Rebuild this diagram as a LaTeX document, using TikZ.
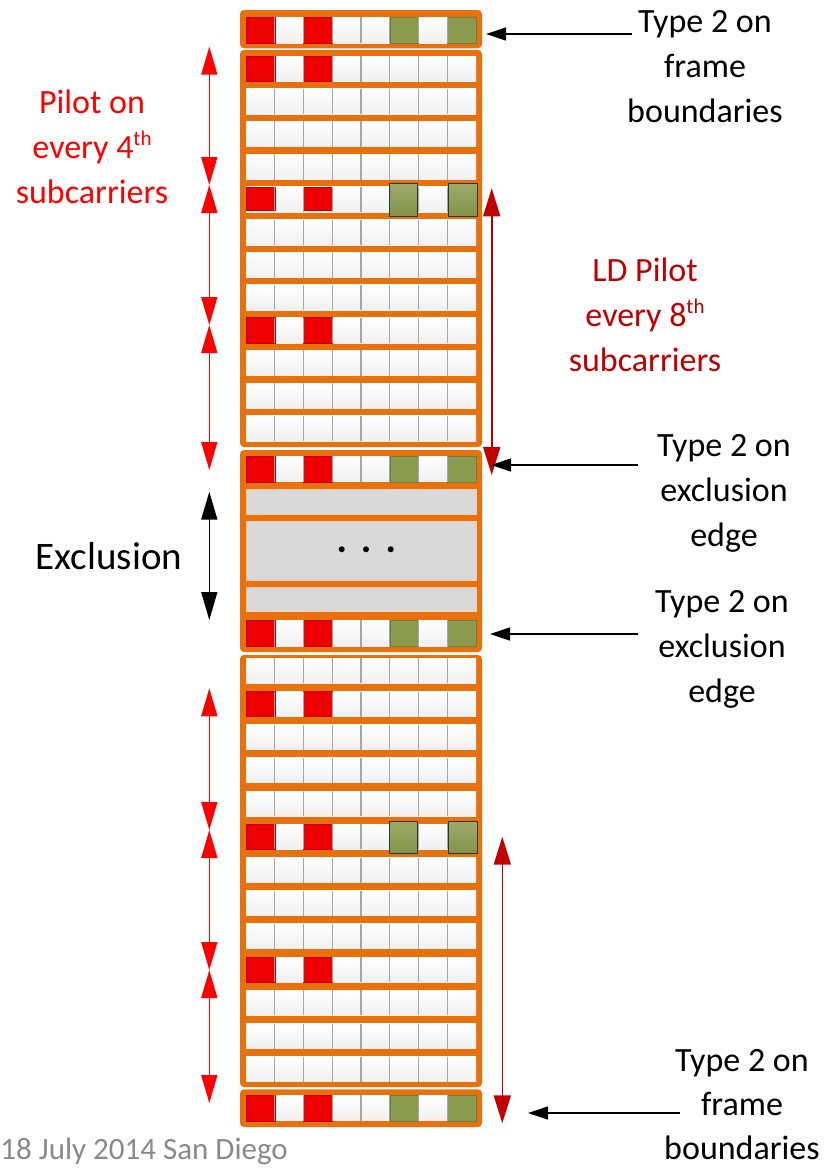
\documentclass[tikz,border=0pt]{standalone}
\usepackage{fontspec}
\setmainfont{Carlito}
\usetikzlibrary{arrows.meta}
\definecolor{org}{RGB}{232,113,14}
\definecolor{pred}{RGB}{238,0,0}
\definecolor{pgreen}{RGB}{138,155,77}
\definecolor{ldred}{RGB}{192,0,0}
\definecolor{exgray}{RGB}{217,217,217}
\definecolor{dategray}{RGB}{137,137,137}
\definecolor{redtxt}{RGB}{255,0,0}
\tikzset{
  framebox/.style={fill=org, rounded corners=4pt},
  sepline/.style={draw=gray!70, line width=1.2pt},
  redcell/.style={fill=pred, draw=pred!80!black, line width=0.4pt},
  greencell/.style={fill=pgreen, draw=pgreen!80!black, line width=0.4pt},
  biggreen/.style={top color=pgreen!85!white, bottom color=pgreen!95!black, draw=gray!40!black, line width=0.8pt},
  exbar/.style={fill=exgray, draw=org!35, line width=0.8pt},
  redarr/.style={draw=redtxt, line width=1.6pt, {Triangle[length=28pt,width=16pt]}-{Triangle[length=28pt,width=16pt]}},
  ldarr/.style={draw=ldred, line width=1.6pt, {Triangle[length=28pt,width=17pt]}-{Triangle[length=28pt,width=17pt]}},
  blkarr/.style={draw=black, line width=1.6pt, {Triangle[length=28pt,width=16pt]}-{Triangle[length=28pt,width=16pt]}},
  ptr/.style={draw=black, line width=1.4pt, -{Triangle[length=20pt,width=13pt]}},
  lbl/.style={align=center, font=\fontsize{34}{45}\selectfont, inner sep=0pt},
}
\newcommand\thsup{\raisebox{13pt}{\fontsize{21}{21}\selectfont th}}
\newcommand\rowstrip[2]{%
  \fill[top color=white, bottom color=gray!12] (246,#1) rectangle (476,#1+#2);}
\newcommand\rowseps[2]{%
  \foreach \c in {1,...,7} {\draw[sepline] (246+28.75*\c,#1) -- (246+28.75*\c,#1+#2);}}
\newcommand\redpair[2]{%
  \path[redcell] (246,#1) rectangle (274.75,#1+#2);
  \path[redcell] (303.5,#1) rectangle (332.25,#1+#2);}
\newcommand\greenpair[2]{%
  \path[greencell] (389.75,#1) rectangle (418.5,#1+#2);
  \path[greencell] (447.25,#1) rectangle (476,#1+#2);}
\newcommand\biggreenpair[1]{%
  \path[biggreen] (389.3,#1-3) rectangle (417.5,#1+29.5);
  \path[biggreen] (448,#1-3) rectangle (477.5,#1+29.5);}
\newcommand\bndrow[2]{%
  \rowstrip{#1}{#2}\redpair{#1}{#2}\greenpair{#1}{#2}\rowseps{#1}{#2}}
\begin{document}
\begin{tikzpicture}[x=1pt,y=-1pt]
\useasboundingbox (0,0) rectangle (830,1168);
% frames
\path[framebox] (240,10) rectangle (482,48.3);
\path[framebox] (240,50) rectangle (482,447);
\path[framebox] (240,450) rectangle (482,652);
\path[framebox] (240,655) rectangle (482,1087);
\path[framebox] (240,1089.3) rectangle (482,1127);
% box 1
\bndrow{17}{26.3}
% box 2
\foreach \i in {0,...,11} {\rowstrip{56+32.7*\i}{25.5}}
\redpair{56}{25.5}
\redpair{56+32.7*4}{23}
\redpair{56+32.7*8}{25.5}
\foreach \i in {0,...,11} {\rowseps{56+32.7*\i}{25.5}}
\biggreenpair{56+32.7*4}
% box 3
\bndrow{456}{25.7}
\path[exbar] (246,489.3) rectangle (476,514);
\path[exbar] (246,521.7) rectangle (476,580);
\path[exbar] (246,587.7) rectangle (476,611);
\bndrow{620}{26.5}
\foreach \x in {341.7,366,390.7} {\fill[black] (\x,549.3) circle (3pt);}
% box 4
\foreach \i in {0,...,12} {\rowstrip{658.3+33.2*\i}{25}}
\redpair{658.3+33.2*1}{25}
\redpair{658.3+33.2*5}{25}
\redpair{658.3+33.2*9}{25}
\foreach \i in {0,...,12} {\rowseps{658.3+33.2*\i}{25}}
\biggreenpair{658.3+33.2*5}
% box 5
\bndrow{1095}{25.7}

% left red arrows
\coordinate (p1) at (209.3,46.7);
\coordinate (p2) at (209.3,185);
\coordinate (p3) at (209.3,325);
\coordinate (p4) at (209.3,470);
\coordinate (q1) at (209.3,688.3);
\coordinate (q2) at (209.3,830);
\coordinate (q3) at (209.3,970);
\coordinate (q4) at (209.3,1103);
\draw[redarr] (p1) -- (p2);
\draw[redarr] (p2) -- (p3);
\draw[redarr] (p3) -- (p4);
\draw[redarr] (q1) -- (q2);
\draw[redarr] (q2) -- (q3);
\draw[redarr] (q3) -- (q4);
% exclusion arrow
\coordinate (e1) at (209.3,491.7);
\coordinate (e2) at (209.3,620);
\draw[blkarr] (e1) -- (e2);
% LD pilot arrows
\coordinate (l1) at (491.7,188.3);
\coordinate (l2) at (491.7,475);
\coordinate (m1) at (502.3,836.7);
\coordinate (m2) at (502.3,1123.3);
\draw[ldarr] (l1) -- (l2);
\draw[ldarr] (m1) -- (m2);

% labels
\node[lbl] (tfb1) at (705,67) {Type 2 on\\frame\\boundaries};
\node[lbl, text=redtxt] (pil4) at (92,147) {Pilot on\\every 4\thsup\\subcarriers};
\node[lbl, text=ldred] (pil8) at (645,315) {LD Pilot\\every 8\thsup\\subcarriers};
\node[lbl] (tee1) at (724,493) {Type 2 on\\exclusion\\edge};
\node[lbl, font=\fontsize{39}{45}\selectfont] (excl) at (109,556) {Exclusion};
\node[lbl] (tee2) at (722,649) {Type 2 on\\exclusion\\edge};
\node[lbl, font=\fontsize{34}{44}\selectfont] (tfb2) at (742,1105) {Type 2 on\\frame\\boundaries};
\node[anchor=base east, inner sep=0pt, text=dategray, font=\fontsize{31}{37}\selectfont] (date) at (288,1159) {18 July 2014 San Diego};

% pointers
\coordinate (s1) at (632,34);   \coordinate (t1) at (486,34);
\coordinate (s2) at (638,465);  \coordinate (t2) at (491,465);
\coordinate (s3) at (638,634);  \coordinate (t3) at (490,634);
\coordinate (s4) at (680,1113); \coordinate (t4) at (528,1113);
\draw[ptr] (s1) -- (t1);
\draw[ptr] (s2) -- (t2);
\draw[ptr] (s3) -- (t3);
\draw[ptr] (s4) -- (t4);
\end{tikzpicture}
\end{document}
